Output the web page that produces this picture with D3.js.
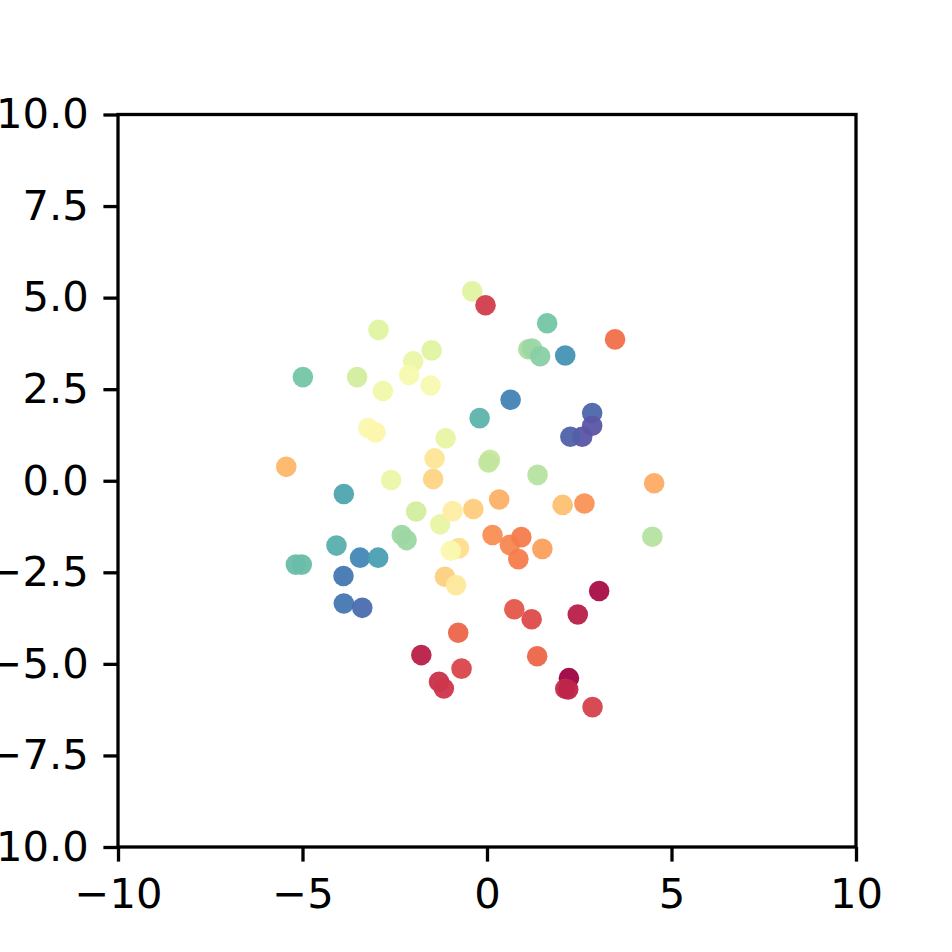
<!DOCTYPE html>
<html>
<head>
<meta charset="utf-8">
<script src="https://cdn.jsdelivr.net/npm/d3@7"></script>
<style>
  body { margin: 0; background: #fff; }
  text { font-family: "DejaVu Sans", sans-serif; }
</style>
</head>
<body>
<div id="chart"></div>
<script>
// point positions and colour values (0 = red end, 1 = purple end of Spectral)
var xs = [-0.40, -0.04, -2.94, -1.50, -2.00, -2.11, -1.53, -4.99, -3.52, -2.82,
          -0.20, -3.22, -3.02, -1.12, 0.08, 0.04, -1.42, -1.46, -5.44, -2.60,
          -3.88, 1.63, 1.12, 1.22, 1.44, 2.12, 3.47, 0.64, 2.85, 2.85,
          2.58, 2.26, 1.37, 4.53, -4.08, -3.44, -2.95, -5.18, -5.02, -3.89,
          -3.88, -3.38, -2.31, -2.18, -1.92, -1.27, -0.93, -0.37, 0.33, -0.76,
          -0.98, -1.14, -0.84, 0.15, 4.48, 2.05, 2.64, 0.62, 0.93, 0.85,
          1.50, 3.04, 2.46, 0.74, 1.21, -0.78, -1.78, -0.69, -1.30, -1.17,
          1.36, 2.22, 2.12, 2.20, 2.86];
var ys = [5.17, 4.79, 4.12, 3.56, 3.26, 2.89, 2.60, 2.83, 2.83, 2.45,
          1.71, 1.44, 1.32, 1.16, 0.57, 0.50, 0.61, 0.05, 0.38, 0.02,
          -0.36, 4.30, 3.59, 3.61, 3.40, 3.42, 3.86, 2.21, 1.85, 1.50,
          1.20, 1.20, 0.16, -0.07, -1.77, -2.10, -2.10, -2.29, -2.29, -2.60,
          -3.35, -3.47, -1.48, -1.62, -0.84, -1.19, -0.83, -0.77, -0.51, -1.84,
          -1.91, -2.62, -2.85, -1.48, -1.53, -0.66, -0.62, -1.75, -1.54, -2.14,
          -1.86, -3.01, -3.65, -3.51, -3.78, -4.15, -4.76, -5.13, -5.49, -5.67,
          -4.79, -5.39, -5.68, -5.70, -6.18];
var cs = [0.60, 0.10, 0.60, 0.60, 0.57, 0.53, 0.52, 0.78, 0.63, 0.55,
          0.82, 0.50, 0.48, 0.58, 0.65, 0.66, 0.42, 0.38, 0.32, 0.57,
          0.85, 0.78, 0.70, 0.72, 0.75, 0.88, 0.20, 0.91, 0.96, 0.99,
          0.99, 0.97, 0.68, 0.30, 0.83, 0.90, 0.86, 0.80, 0.80, 0.93,
          0.93, 0.95, 0.72, 0.72, 0.63, 0.58, 0.45, 0.36, 0.31, 0.40,
          0.50, 0.37, 0.43, 0.25, 0.68, 0.34, 0.26, 0.24, 0.22, 0.22,
          0.28, 0.02, 0.05, 0.15, 0.13, 0.18, 0.05, 0.12, 0.08, 0.09,
          0.18, 0.00, 0.07, 0.06, 0.11];

var xTicks = [-10, -5, 0, 5, 10];
var yTicks = [-10, -7.5, -5, -2.5, 0, 2.5, 5, 7.5, 10];

var width = 952, height = 952;
var plotLeft = 118, plotRight = 856, plotTop = 114.5, plotBottom = 847;
var fontSize = 41.7, tickLen = 14.6, pad = 14.6, lw = 3.3;

var svg = d3.select("#chart")
    .append("svg")
    .attr("width", width)
    .attr("height", height);

var x = d3.scaleLinear().domain([-10, 10]).range([plotLeft, plotRight]);
var y = d3.scaleLinear().domain([-10, 10]).range([plotBottom, plotTop]);

var fmtMinus = function(s) { return s.replace("-", "\u2212"); };

// points
var pts = d3.range(xs.length);
svg.append("g")
    .selectAll("circle")
    .data(pts)
    .enter()
    .append("circle")
    .attr("cx", function(i) { return x(xs[i]); })
    .attr("cy", function(i) { return y(ys[i]); })
    .attr("r", 10.3)
    .attr("fill", function(i) { return d3.interpolateSpectral(cs[i]); })
    .attr("fill-opacity", 0.95);

// axes
svg.append("g")
    .attr("transform", "translate(0," + plotBottom + ")")
    .call(d3.axisBottom(x).tickValues(xTicks).tickSize(tickLen).tickPadding(pad + 2)
        .tickFormat(function(d) { return fmtMinus(d3.format("d")(d)); }))
    .call(function(g) { g.select(".domain").remove(); })
    .call(function(g) {
        g.selectAll("line").attr("stroke", "#000").attr("stroke-width", lw);
        g.selectAll("text").attr("font-size", fontSize).attr("fill", "#000")
            .attr("font-family", "DejaVu Sans");
    });

svg.append("g")
    .attr("transform", "translate(" + plotLeft + ",0)")
    .call(d3.axisLeft(y).tickValues(yTicks).tickSize(tickLen).tickPadding(pad)
        .tickFormat(function(d) { return fmtMinus(d3.format(".1f")(d)); }))
    .call(function(g) { g.select(".domain").remove(); })
    .call(function(g) {
        g.selectAll("line").attr("stroke", "#000").attr("stroke-width", lw);
        g.selectAll("text").attr("font-size", fontSize).attr("fill", "#000")
            .attr("font-family", "DejaVu Sans");
    });

// frame
svg.append("rect")
    .attr("x", plotLeft)
    .attr("y", plotTop)
    .attr("width", plotRight - plotLeft)
    .attr("height", plotBottom - plotTop)
    .attr("fill", "none")
    .attr("stroke", "#000")
    .attr("stroke-width", lw);
</script>
</body>
</html>
